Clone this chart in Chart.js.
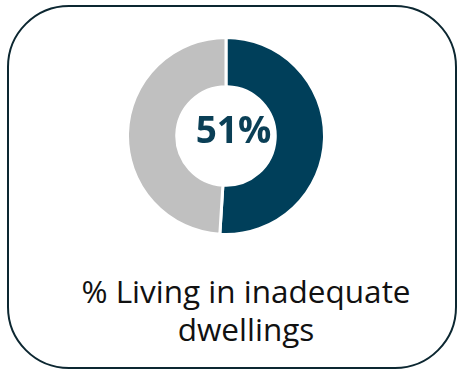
<!DOCTYPE html>
<html>
<head>
<meta charset="utf-8">
<script src="https://cdn.jsdelivr.net/npm/chart.js@4/dist/chart.umd.min.js"></script>
<style>
  html, body { margin: 0; padding: 0; background: #ffffff; }
  body { width: 462px; height: 376px; position: relative; overflow: hidden; font-family: "Open Sans", sans-serif; }
  #box { position: absolute; left: 7px; top: 5px; width: 450px; height: 364px; box-sizing: border-box;
         border: 2.5px solid #0c2731; border-radius: 62px; }
  #wrap { position: absolute; left: 126px; top: 36px; width: 200px; height: 200px; }
  #caption { position: absolute; left: 15px; top: 271.5px; width: 462px; text-align: center;
             font-size: 31.5px; line-height: 38.5px; color: #111111; }
</style>
</head>
<body>
<div id="box"></div>
<div id="wrap"><canvas id="c" width="200" height="200"></canvas></div>
<div id="caption">% Living in inadequate<br>dwellings</div>
<script>
const categories = ["Living in inadequate dwellings", "Other"];
const values = [51, 49];
const centerLabel = "51%";
const colors = ["#003f5a", "#c0c0c0"];

const centerText = {
  id: "centerText",
  afterDatasetsDraw(chart) {
    const arc = chart.getDatasetMeta(0).data[0];
    const ctx = chart.ctx;
    ctx.save();
    ctx.font = "bold 37px 'Open Sans'";
    ctx.fillStyle = "#0a3f56";
    ctx.textAlign = "center";
    ctx.textBaseline = "alphabetic";
    ctx.fillText(centerLabel, arc.x + 7.5, arc.y + 7);
    ctx.restore();
  }
};

new Chart(document.getElementById("c"), {
  type: "doughnut",
  data: {
    labels: categories,
    datasets: [{
      data: values,
      backgroundColor: colors,
      borderColor: "#ffffff",
      borderWidth: 3
    }]
  },
  options: {
    responsive: false,
    animation: false,
    cutout: "50%",
    layout: { padding: 0 },
    plugins: { legend: { display: false }, tooltip: { enabled: false } }
  },
  plugins: [centerText]
});
</script>
</body>
</html>
